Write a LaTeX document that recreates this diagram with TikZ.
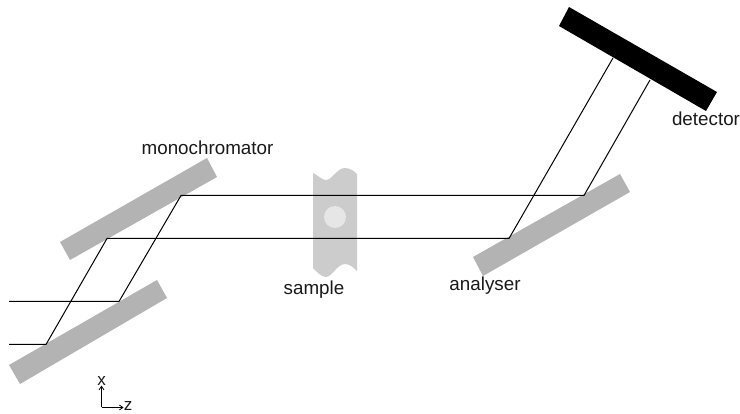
\documentclass[tikz,border=0pt]{standalone}
\usepackage{fontspec}
\setmainfont{Liberation Sans}
\usetikzlibrary{arrows.meta}
\definecolor{crystalgray}{HTML}{B3B3B3}
\definecolor{samplegray}{HTML}{CCCCCC}
\definecolor{spotgray}{HTML}{E6E6E6}
\tikzset{
  crystal/.style={fill=crystalgray,draw=none},
  ray/.style={draw=black,line width=1pt,line join=round},
  lab/.style={font=\fontsize{18.8}{22}\selectfont,text=black!90,inner sep=0pt},
  axlab/.style={font=\fontsize{17}{20}\selectfont,text=black!90,inner sep=0pt},
  axis/.style={draw=black,line width=0.8pt,-{Straight Barb[length=3.5pt,width=5pt]}}
}
\begin{document}
\begin{tikzpicture}[x=1pt,y=-1pt]
\useasboundingbox (0,0) rectangle (740,414);
% crystals
\fill[crystal] (207,158) -- (217,177) -- (70,260) -- (60,242) -- cycle;
\fill[crystal] (157,280) -- (167,298) -- (20,384) -- (9,365) -- cycle;
\fill[crystal] (620,174) -- (630,192) -- (483,276) -- (473,257) -- cycle;
\fill[black] (569,7) -- (717,92) -- (706,111) -- (559,26) -- cycle;
% sample
\fill[samplegray] (313,173) .. controls (319,176) and (322,180) .. (326,180)
  .. controls (332,180) and (337,168) .. (345,168)
  .. controls (350,168) and (354,171) .. (357,174)
  -- (357,271) .. controls (354,268) and (350,264) .. (345,264)
  .. controls (337,264) and (332,277) .. (326,277)
  .. controls (321,277) and (317,272) .. (313,268) -- cycle;
\fill[spotgray] (335,217) circle (11);
% ray points
\coordinate (a1) at (9,344.5);
\coordinate (a2) at (46,344.5);
\coordinate (a3) at (107,238.5);
\coordinate (a4) at (509,238.5);
\coordinate (a5) at (613,58);
\coordinate (b1) at (9,301.5);
\coordinate (b2) at (119,301.5);
\coordinate (b3) at (181,195.5);
\coordinate (b4) at (584,195.5);
\coordinate (b5) at (650,80);
\draw[ray] (a1) -- (a2) -- (a3) -- (a4) -- (a5);
\draw[ray] (b1) -- (b2) -- (b3) -- (b4) -- (b5);
% labels
\node[lab] (mono) at (207.5,148) {monochromator};
\node[lab] (samp) at (314,290) {sample};
\node[lab] (anal) at (485,286) {analyser};
\node[lab] (det) at (706,119) {detector};
% axes
\coordinate (o) at (101.5,407.5);
\node[axlab] (xl) at (101.5,381) {x};
\node[axlab] (zl) at (128,406) {z};
\draw[axis] (o) -- (xl.south);
\draw[axis] (o) -- (o -| zl.west);
\end{tikzpicture}
\end{document}
